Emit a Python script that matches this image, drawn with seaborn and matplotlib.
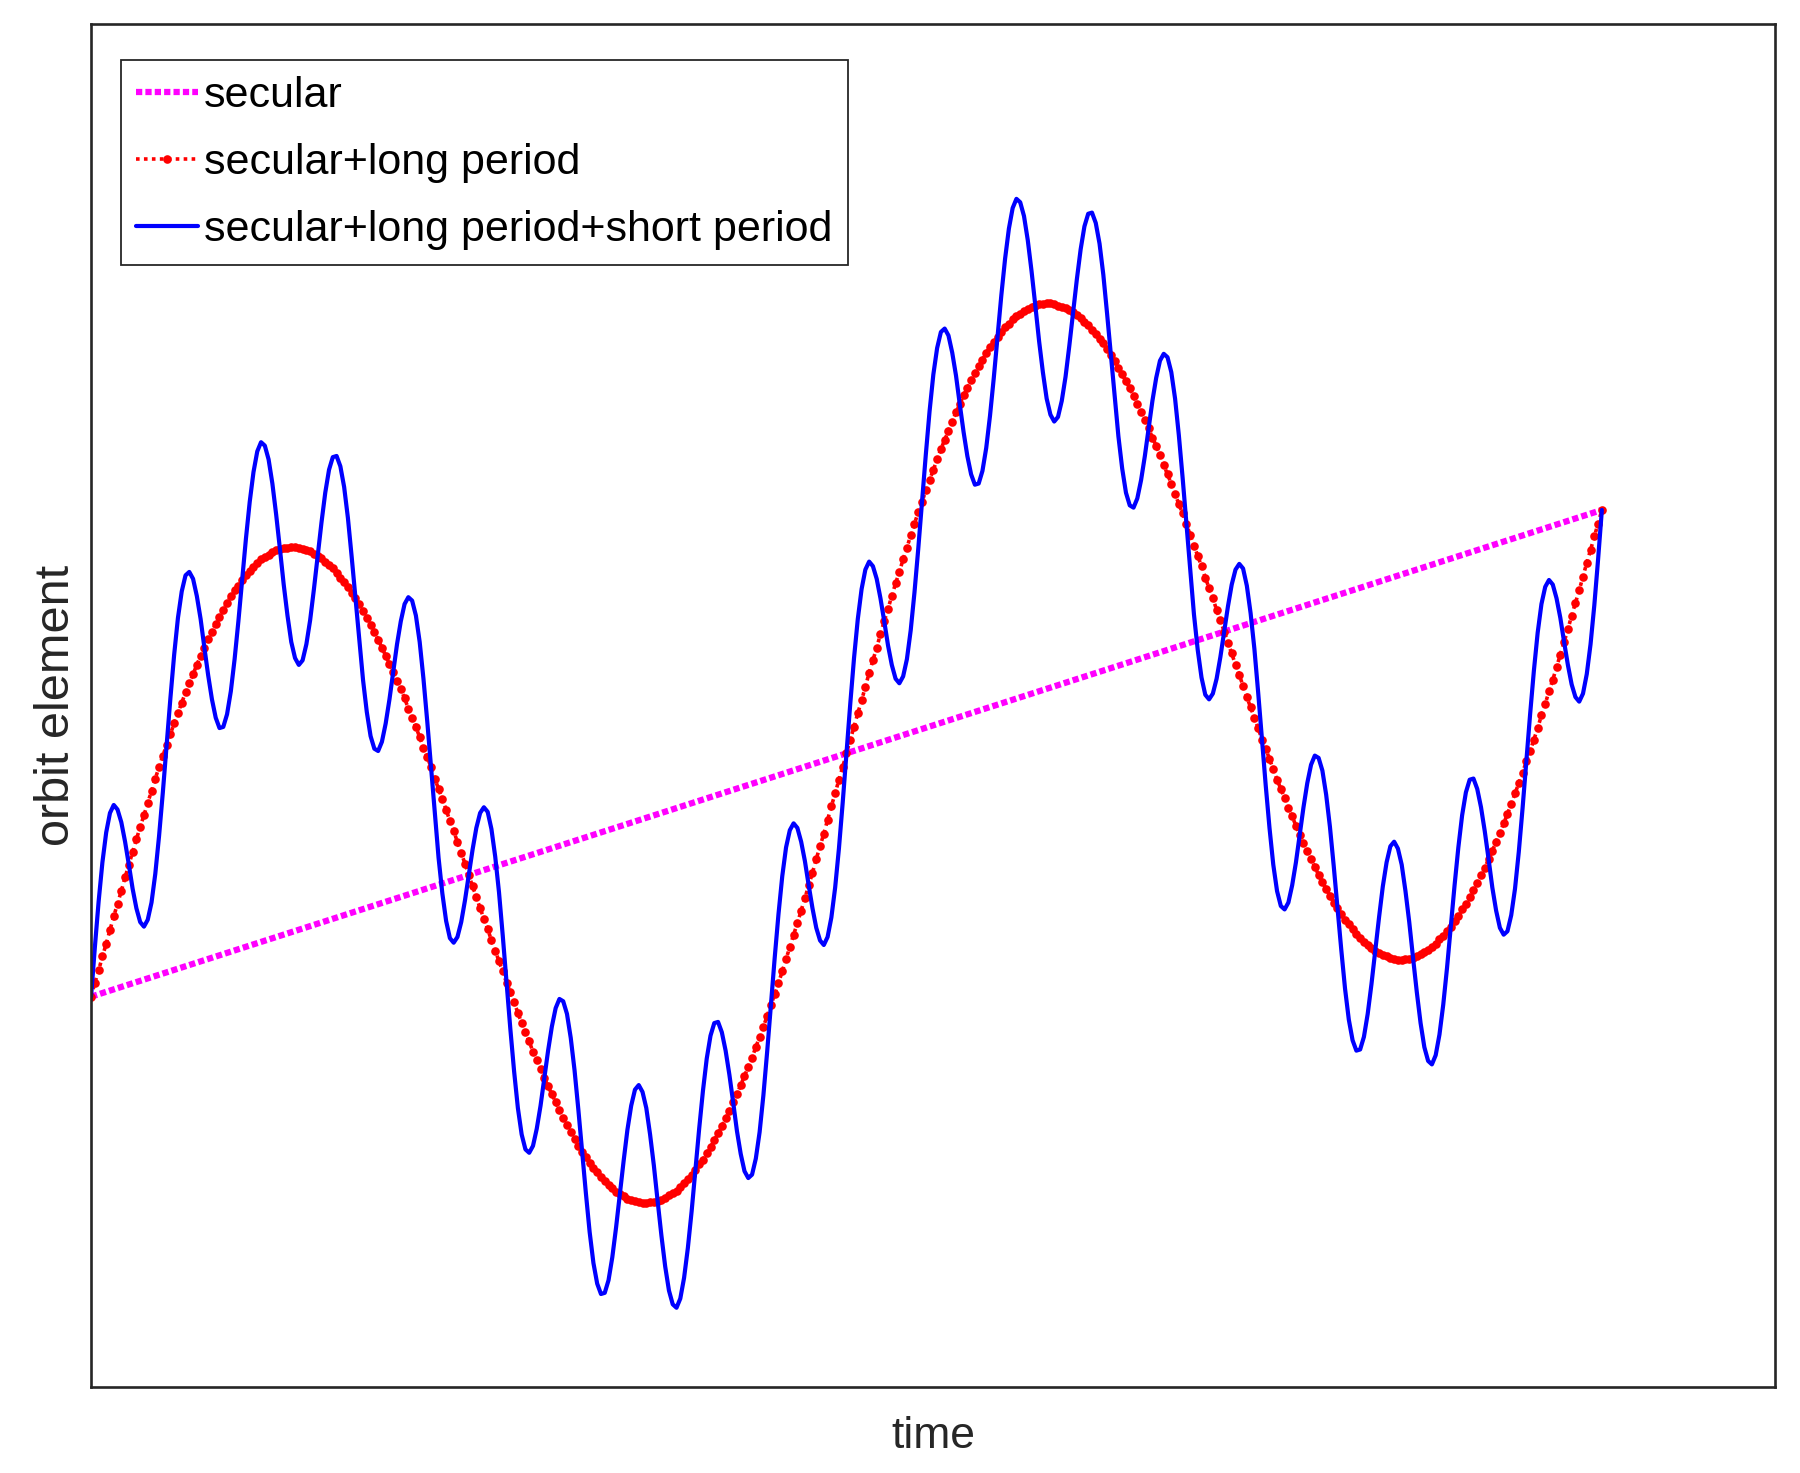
import numpy as np
import pandas as pd
import seaborn as sns
import matplotlib
matplotlib.use("Agg")
import matplotlib.pyplot as plt

# legend labels
labels = ['secular', 'secular+long period', 'secular+long period+short period']

# secular trend: straight line, start and end values
secular_time = [0.0, 2.0]
secular = [3.40, 7.64]

# sample grid (two long periods, 401 samples)
time = np.linspace(0, 2, 401)

# secular + long period (red dotted curve)
long_period = [
    3.40, 3.52, 3.63, 3.75, 3.86, 3.98, 4.10, 4.21, 4.32, 4.44, 4.55, 4.66, 4.77, 4.88, 4.98, 5.09, 5.19, 5.30, 5.40, 5.50,
    5.59, 5.69, 5.78, 5.87, 5.96, 6.05, 6.13, 6.21, 6.29, 6.37, 6.44, 6.52, 6.58, 6.65, 6.71, 6.77, 6.83, 6.89, 6.94, 6.98,
    7.03, 7.07, 7.11, 7.14, 7.18, 7.21, 7.23, 7.25, 7.27, 7.29, 7.30, 7.31, 7.31, 7.32, 7.32, 7.31, 7.30, 7.29, 7.28, 7.26,
    7.24, 7.22, 7.19, 7.16, 7.13, 7.09, 7.05, 7.01, 6.97, 6.92, 6.87, 6.82, 6.76, 6.70, 6.64, 6.58, 6.51, 6.44, 6.37, 6.30,
    6.23, 6.15, 6.08, 6.00, 5.91, 5.83, 5.75, 5.66, 5.57, 5.49, 5.40, 5.30, 5.21, 5.12, 5.03, 4.93, 4.84, 4.75, 4.65, 4.56,
    4.46, 4.36, 4.27, 4.17, 4.08, 3.99, 3.89, 3.80, 3.71, 3.62, 3.52, 3.44, 3.35, 3.26, 3.17, 3.09, 3.01, 2.92, 2.85, 2.77,
    2.69, 2.62, 2.55, 2.48, 2.41, 2.34, 2.28, 2.22, 2.16, 2.10, 2.05, 2.00, 1.95, 1.91, 1.87, 1.83, 1.79, 1.76, 1.73, 1.70,
    1.68, 1.66, 1.64, 1.63, 1.62, 1.61, 1.60, 1.60, 1.61, 1.61, 1.62, 1.63, 1.65, 1.67, 1.69, 1.71, 1.74, 1.78, 1.81, 1.85,
    1.89, 1.94, 1.98, 2.04, 2.09, 2.15, 2.21, 2.27, 2.34, 2.40, 2.48, 2.55, 2.63, 2.71, 2.79, 2.87, 2.96, 3.05, 3.14, 3.23,
    3.33, 3.42, 3.52, 3.62, 3.73, 3.83, 3.94, 4.04, 4.15, 4.26, 4.37, 4.48, 4.60, 4.71, 4.82, 4.94, 5.06, 5.17, 5.29, 5.40,
    5.52, 5.64, 5.75, 5.87, 5.98, 6.10, 6.22, 6.33, 6.44, 6.56, 6.67, 6.78, 6.89, 7.00, 7.10, 7.21, 7.31, 7.42, 7.52, 7.62,
    7.71, 7.81, 7.90, 7.99, 8.08, 8.17, 8.25, 8.33, 8.41, 8.49, 8.56, 8.64, 8.70, 8.77, 8.83, 8.89, 8.95, 9.01, 9.06, 9.10,
    9.15, 9.19, 9.23, 9.26, 9.30, 9.33, 9.35, 9.37, 9.39, 9.41, 9.42, 9.43, 9.43, 9.44, 9.44, 9.43, 9.42, 9.41, 9.40, 9.38,
    9.36, 9.34, 9.31, 9.28, 9.25, 9.21, 9.17, 9.13, 9.09, 9.04, 8.99, 8.94, 8.88, 8.82, 8.76, 8.70, 8.63, 8.56, 8.49, 8.42,
    8.35, 8.27, 8.20, 8.12, 8.03, 7.95, 7.87, 7.78, 7.69, 7.61, 7.52, 7.42, 7.33, 7.24, 7.15, 7.05, 6.96, 6.87, 6.77, 6.68,
    6.58, 6.48, 6.39, 6.29, 6.20, 6.11, 6.01, 5.92, 5.83, 5.74, 5.64, 5.56, 5.47, 5.38, 5.29, 5.21, 5.13, 5.04, 4.97, 4.89,
    4.81, 4.74, 4.67, 4.60, 4.53, 4.46, 4.40, 4.34, 4.28, 4.22, 4.17, 4.12, 4.07, 4.03, 3.99, 3.95, 3.91, 3.88, 3.85, 3.82,
    3.80, 3.78, 3.76, 3.75, 3.74, 3.73, 3.72, 3.72, 3.73, 3.73, 3.74, 3.75, 3.77, 3.79, 3.81, 3.83, 3.86, 3.90, 3.93, 3.97,
    4.01, 4.06, 4.10, 4.16, 4.21, 4.27, 4.33, 4.39, 4.46, 4.52, 4.60, 4.67, 4.75, 4.83, 4.91, 4.99, 5.08, 5.17, 5.26, 5.35,
    5.45, 5.54, 5.64, 5.74, 5.85, 5.95, 6.06, 6.16, 6.27, 6.38, 6.49, 6.60, 6.72, 6.83, 6.94, 7.06, 7.18, 7.29, 7.41, 7.52,
    7.64,
]

# secular + long period + short period (blue solid curve)
short_period = [
    3.40, 3.83, 4.23, 4.57, 4.83, 5.00, 5.07, 5.03, 4.92, 4.75, 4.55, 4.34, 4.17, 4.05, 4.01, 4.07, 4.22, 4.47, 4.80, 5.18,
    5.59, 6.00, 6.38, 6.70, 6.93, 7.07, 7.10, 7.04, 6.89, 6.69, 6.44, 6.20, 5.99, 5.83, 5.74, 5.75, 5.86, 6.06, 6.34, 6.67,
    7.03, 7.39, 7.71, 7.97, 8.15, 8.23, 8.20, 8.08, 7.87, 7.60, 7.30, 6.99, 6.72, 6.49, 6.35, 6.29, 6.33, 6.47, 6.68, 6.95,
    7.24, 7.53, 7.79, 7.99, 8.10, 8.11, 8.02, 7.84, 7.57, 7.23, 6.87, 6.50, 6.16, 5.88, 5.67, 5.56, 5.54, 5.62, 5.78, 5.99,
    6.23, 6.47, 6.67, 6.82, 6.88, 6.85, 6.72, 6.49, 6.17, 5.80, 5.40, 4.99, 4.61, 4.30, 4.06, 3.91, 3.87, 3.92, 4.05, 4.24,
    4.46, 4.68, 4.87, 5.00, 5.05, 5.01, 4.86, 4.62, 4.31, 3.93, 3.52, 3.12, 2.75, 2.43, 2.20, 2.07, 2.04, 2.10, 2.25, 2.45,
    2.69, 2.93, 3.14, 3.30, 3.38, 3.36, 3.25, 3.04, 2.76, 2.42, 2.05, 1.69, 1.35, 1.08, 0.90, 0.81, 0.82, 0.93, 1.13, 1.39,
    1.68, 1.97, 2.24, 2.45, 2.59, 2.63, 2.57, 2.43, 2.20, 1.93, 1.62, 1.32, 1.05, 0.84, 0.72, 0.69, 0.77, 0.95, 1.21, 1.53,
    1.89, 2.25, 2.58, 2.86, 3.06, 3.17, 3.18, 3.09, 2.93, 2.72, 2.48, 2.23, 2.03, 1.88, 1.82, 1.85, 1.99, 2.22, 2.54, 2.92,
    3.33, 3.74, 4.12, 4.45, 4.70, 4.85, 4.91, 4.87, 4.75, 4.58, 4.37, 4.17, 4.00, 3.89, 3.85, 3.92, 4.09, 4.35, 4.69, 5.09,
    5.52, 5.95, 6.35, 6.69, 6.95, 7.12, 7.19, 7.15, 7.04, 6.87, 6.67, 6.46, 6.29, 6.17, 6.13, 6.19, 6.34, 6.59, 6.92, 7.30,
    7.71, 8.12, 8.50, 8.82, 9.05, 9.19, 9.22, 9.16, 9.01, 8.81, 8.56, 8.32, 8.11, 7.95, 7.86, 7.87, 7.98, 8.18, 8.46, 8.79,
    9.15, 9.51, 9.83, 10.09, 10.27, 10.35, 10.32, 10.20, 9.99, 9.72, 9.42, 9.11, 8.84, 8.61, 8.47, 8.41, 8.45, 8.59, 8.80, 9.07,
    9.36, 9.65, 9.91, 10.11, 10.22, 10.23, 10.14, 9.96, 9.69, 9.35, 8.99, 8.62, 8.28, 8.00, 7.79, 7.68, 7.66, 7.74, 7.90, 8.11,
    8.35, 8.59, 8.79, 8.94, 9.00, 8.97, 8.84, 8.61, 8.29, 7.92, 7.52, 7.11, 6.73, 6.42, 6.18, 6.03, 5.99, 6.04, 6.17, 6.36,
    6.58, 6.80, 6.99, 7.12, 7.17, 7.13, 6.98, 6.74, 6.43, 6.05, 5.64, 5.24, 4.87, 4.55, 4.32, 4.19, 4.16, 4.22, 4.37, 4.57,
    4.81, 5.05, 5.26, 5.42, 5.50, 5.48, 5.37, 5.16, 4.88, 4.54, 4.17, 3.81, 3.47, 3.20, 3.02, 2.93, 2.94, 3.05, 3.25, 3.51,
    3.80, 4.09, 4.36, 4.57, 4.71, 4.75, 4.69, 4.55, 4.32, 4.05, 3.74, 3.44, 3.17, 2.96, 2.84, 2.81, 2.89, 3.07, 3.33, 3.65,
    4.01, 4.37, 4.70, 4.98, 5.18, 5.29, 5.30, 5.21, 5.05, 4.84, 4.60, 4.35, 4.15, 4.00, 3.94, 3.97, 4.11, 4.34, 4.66, 5.04,
    5.45, 5.86, 6.24, 6.57, 6.82, 6.97, 7.03, 6.99, 6.87, 6.70, 6.49, 6.29, 6.12, 6.01, 5.97, 6.04, 6.21, 6.47, 6.81, 7.21,
    7.64,
]

df = pd.DataFrame({'time': time, 'long': long_period, 'short': short_period})
df_sec = pd.DataFrame({'time': secular_time, 'secular': secular})

sns.set_style('white')
plt.rcParams['font.family'] = ['Liberation Sans', 'DejaVu Sans']

fig = plt.figure(figsize=(18, 14.73), dpi=100)
ax = fig.add_axes([0.0506, 0.0584, 0.9356, 0.9253])

sns.lineplot(data=df_sec, x='time', y='secular', ax=ax, color='#FF00FF',
             linewidth=4.5, linestyle=(0, (1, 0.5)), label=labels[0])
sns.lineplot(data=df, x='time', y='long', ax=ax, color='#FF0000',
             linewidth=2.6, linestyle=(0, (1, 1.2)), marker='o',
             markersize=6.2, markeredgewidth=0, label=labels[1])
sns.lineplot(data=df, x='time', y='short', ax=ax, color='#0000FF',
             linewidth=3.0, label=labels[2])

ax.set_xlim(0, 2.2294)
ax.set_ylim(0, 11.873)
ax.set_xticks([])
ax.set_yticks([])
for sp in ax.spines.values():
    sp.set_visible(True)
    sp.set_color('#262626')
    sp.set_linewidth(1.9)

ax.set_xlabel('time', fontsize=32, labelpad=21, color='#262626')
ax.set_ylabel('orbit element', fontsize=35, labelpad=9, color='#262626')

leg = ax.legend(loc='upper left', bbox_to_anchor=(0.0175, 0.9735),
                borderaxespad=0, fontsize=31, frameon=True, fancybox=False,
                edgecolor='#262626', framealpha=1, borderpad=0.36,
                labelspacing=0.63, handlelength=1.43, handletextpad=0.15)
leg.get_frame().set_linewidth(1.3)
for txt in leg.get_texts():
    txt.set_color('black')

fig.savefig('out.png', dpi=100)
